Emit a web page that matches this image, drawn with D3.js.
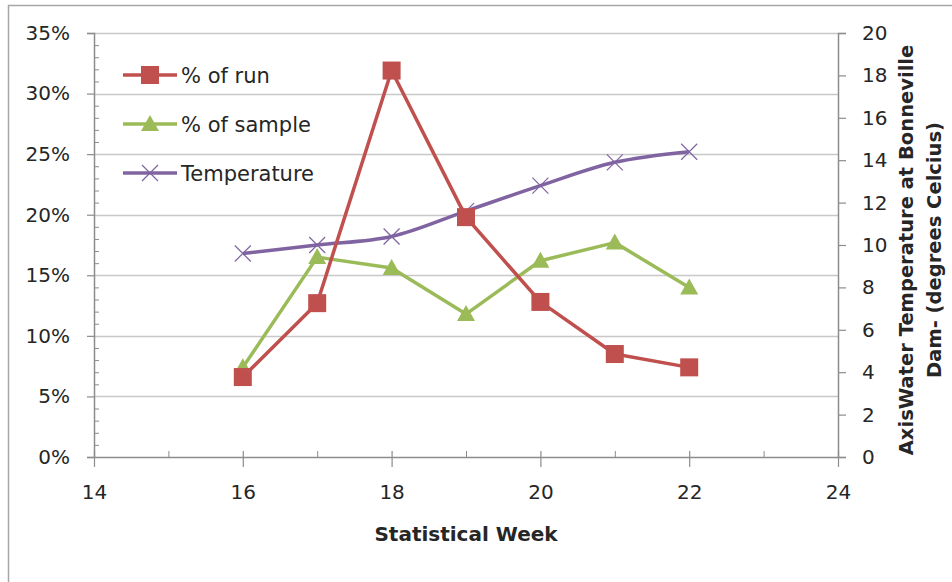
<!DOCTYPE html>
<html>
<head>
<meta charset="utf-8">
<script src="https://cdn.jsdelivr.net/npm/d3@7"></script>
<style>
  body { margin: 0; background: #fff; }
  svg text { font-family: "DejaVu Sans", sans-serif; fill: #262626; }
</style>
</head>
<body>
<div id="chart"></div>
<script>
// data
const weeks = [16, 17, 18, 19, 20, 21, 22];
const pctRun = [6.6, 12.7, 31.9, 19.8, 12.8, 8.5, 7.4];
const pctSample = [7.4, 16.5, 15.6, 11.8, 16.2, 17.7, 14.0];
const temperature = [9.6, 10.0, 10.4, 11.6, 12.8, 13.9, 14.4];

const xTicks = [14, 16, 18, 20, 22, 24];
const leftTicks = [0, 5, 10, 15, 20, 25, 30, 35];
const rightTicks = [0, 2, 4, 6, 8, 10, 12, 14, 16, 18, 20];

const width = 952;
const height = 582;
const margin = { top: 33, right: 114, bottom: 125, left: 94 };

const red = "#c0504d", green = "#9bbb59", purple = "#8064a2";

const svg = d3.select("#chart")
    .append("svg")
    .attr("width", width)
    .attr("height", height);

// outer frame (only top and left edges show in the picture)
svg.append("path")
    .attr("d", `M8.5,${height} V5.5 H${width}`)
    .attr("fill", "none")
    .attr("stroke", "#a6a6a6")
    .attr("stroke-width", 1.5);

const x = d3.scaleLinear().domain([14, 24]).range([margin.left, width - margin.right]);
const y = d3.scaleLinear().domain([0, 35]).range([height - margin.bottom, margin.top]);
const y2 = d3.scaleLinear().domain([0, 20]).range([height - margin.bottom, margin.top]);

// gridlines
svg.append("g")
    .selectAll("line")
    .data(leftTicks.slice(1))
    .enter()
    .append("line")
    .attr("x1", x(14))
    .attr("x2", x(24))
    .attr("y1", d => Math.round(y(d)) + 0.5)
    .attr("y2", d => Math.round(y(d)) + 0.5)
    .attr("stroke", "#c8c8c8")
    .attr("stroke-width", 1.5);

const axisColor = "#8c8c8c";

function styleAxis(g) {
    g.select(".domain").attr("stroke", axisColor).attr("stroke-width", 1.5);
    g.selectAll(".tick line").attr("stroke", axisColor).attr("stroke-width", 1.2);
    g.selectAll(".tick text").attr("font-size", 20).attr("fill", "#262626")
        .style("font-family", "'DejaVu Sans', sans-serif");
}

// minor ticks
svg.append("g")
    .attr("transform", `translate(${x(14)},0)`)
    .call(d3.axisRight(y).tickValues(d3.range(1, 35).filter(d => d % 5 !== 0)).tickSize(5).tickFormat(""))
    .call(g => g.select(".domain").remove())
    .selectAll("line").attr("stroke", axisColor);

svg.append("g")
    .attr("transform", `translate(0,${y(0)})`)
    .call(d3.axisTop(x).tickValues([15, 17, 19, 21, 23]).tickSize(6).tickFormat(""))
    .call(g => g.select(".domain").remove())
    .selectAll("line").attr("stroke", axisColor);

// left axis
svg.append("g")
    .attr("transform", `translate(${x(14)},0)`)
    .call(d3.axisLeft(y).tickValues(leftTicks).tickSize(7).tickPadding(17).tickFormat(d => d + "%"))
    .call(styleAxis);

// right axis
svg.append("g")
    .attr("transform", `translate(${x(24)},0)`)
    .call(d3.axisRight(y2).tickValues(rightTicks).tickSize(8).tickPadding(16))
    .call(styleAxis);

// bottom axis
svg.append("g")
    .attr("transform", `translate(0,${y(0)})`)
    .call(d3.axisBottom(x).tickValues(xTicks).tickSizeInner(10).tickSizeOuter(0).tickPadding(18))
    .call(styleAxis)
    .call(g => g.selectAll(".tick line").attr("y1", -6));

// axis titles
svg.append("text")
    .attr("x", (x(14) + x(24)) / 2)
    .attr("y", 541)
    .attr("text-anchor", "middle")
    .attr("font-size", 20)
    .attr("font-weight", "bold")
    .text("Statistical Week");

const rTitle = svg.append("text")
    .attr("transform", `translate(913,${(y2(0) + y2(20)) / 2 + 5}) rotate(-90)`)
    .attr("text-anchor", "middle")
    .attr("font-size", 19.5)
    .attr("font-weight", "bold");
rTitle.append("tspan").attr("x", 0).attr("y", 0).text("AxisWater Temperature at Bonneville");
rTitle.append("tspan").attr("x", 0).attr("y", 28).text("Dam- (degrees Celcius)");

// series
const rows = weeks.map((w, i) => ({ w, run: pctRun[i], sample: pctSample[i], temp: temperature[i] }));

const tempLine = d3.line().x(d => x(d.w)).y(d => y2(d.temp)).curve(d3.curveCatmullRom.alpha(0.5));
const sampleLine = d3.line().x(d => x(d.w)).y(d => y(d.sample));
const runLine = d3.line().x(d => x(d.w)).y(d => y(d.run));

function drawCross(g, cx, cy) {
    g.append("path")
        .attr("transform", `translate(${cx},${cy})`)
        .attr("d", "M-8,-8L8,8M-8,8L8,-8")
        .attr("stroke", purple)
        .attr("stroke-width", 1.2)
        .attr("fill", "none");
}
function drawTri(g, cx, cy) {
    g.append("path")
        .attr("transform", `translate(${cx},${cy})`)
        .attr("d", "M0,-9L9,7L-9,7Z")
        .attr("fill", green);
}
function drawSquare(g, cx, cy) {
    g.append("rect")
        .attr("x", cx - 9).attr("y", cy - 9)
        .attr("width", 18).attr("height", 18)
        .attr("fill", red);
}

const plot = svg.append("g");

plot.append("path").datum(rows)
    .attr("d", tempLine).attr("fill", "none").attr("stroke", purple).attr("stroke-width", 3.5);
rows.forEach(d => drawCross(plot, x(d.w), y2(d.temp)));

plot.append("path").datum(rows)
    .attr("d", sampleLine).attr("fill", "none").attr("stroke", green).attr("stroke-width", 3.5)
    .attr("stroke-linejoin", "round");
rows.forEach(d => drawTri(plot, x(d.w), y(d.sample)));

plot.append("path").datum(rows)
    .attr("d", runLine).attr("fill", "none").attr("stroke", red).attr("stroke-width", 3.5)
    .attr("stroke-linejoin", "round");
rows.forEach(d => drawSquare(plot, x(d.w), y(d.run)));

// legend
const legendItems = [
    { name: "% of run", color: red, mark: drawSquare },
    { name: "% of sample", color: green, mark: drawTri },
    { name: "Temperature", color: purple, mark: drawCross }
];

const legend = svg.append("g");
legendItems.forEach((d, i) => {
    const ly = 75 + i * 49;
    legend.append("line")
        .attr("x1", 123).attr("x2", 177)
        .attr("y1", ly).attr("y2", ly)
        .attr("stroke", d.color).attr("stroke-width", 3.5);
    d.mark(legend, 150, ly);
    legend.append("text")
        .attr("x", 181)
        .attr("y", ly + 7.5)
        .attr("font-size", 21)
        .text(d.name);
});
</script>
</body>
</html>
